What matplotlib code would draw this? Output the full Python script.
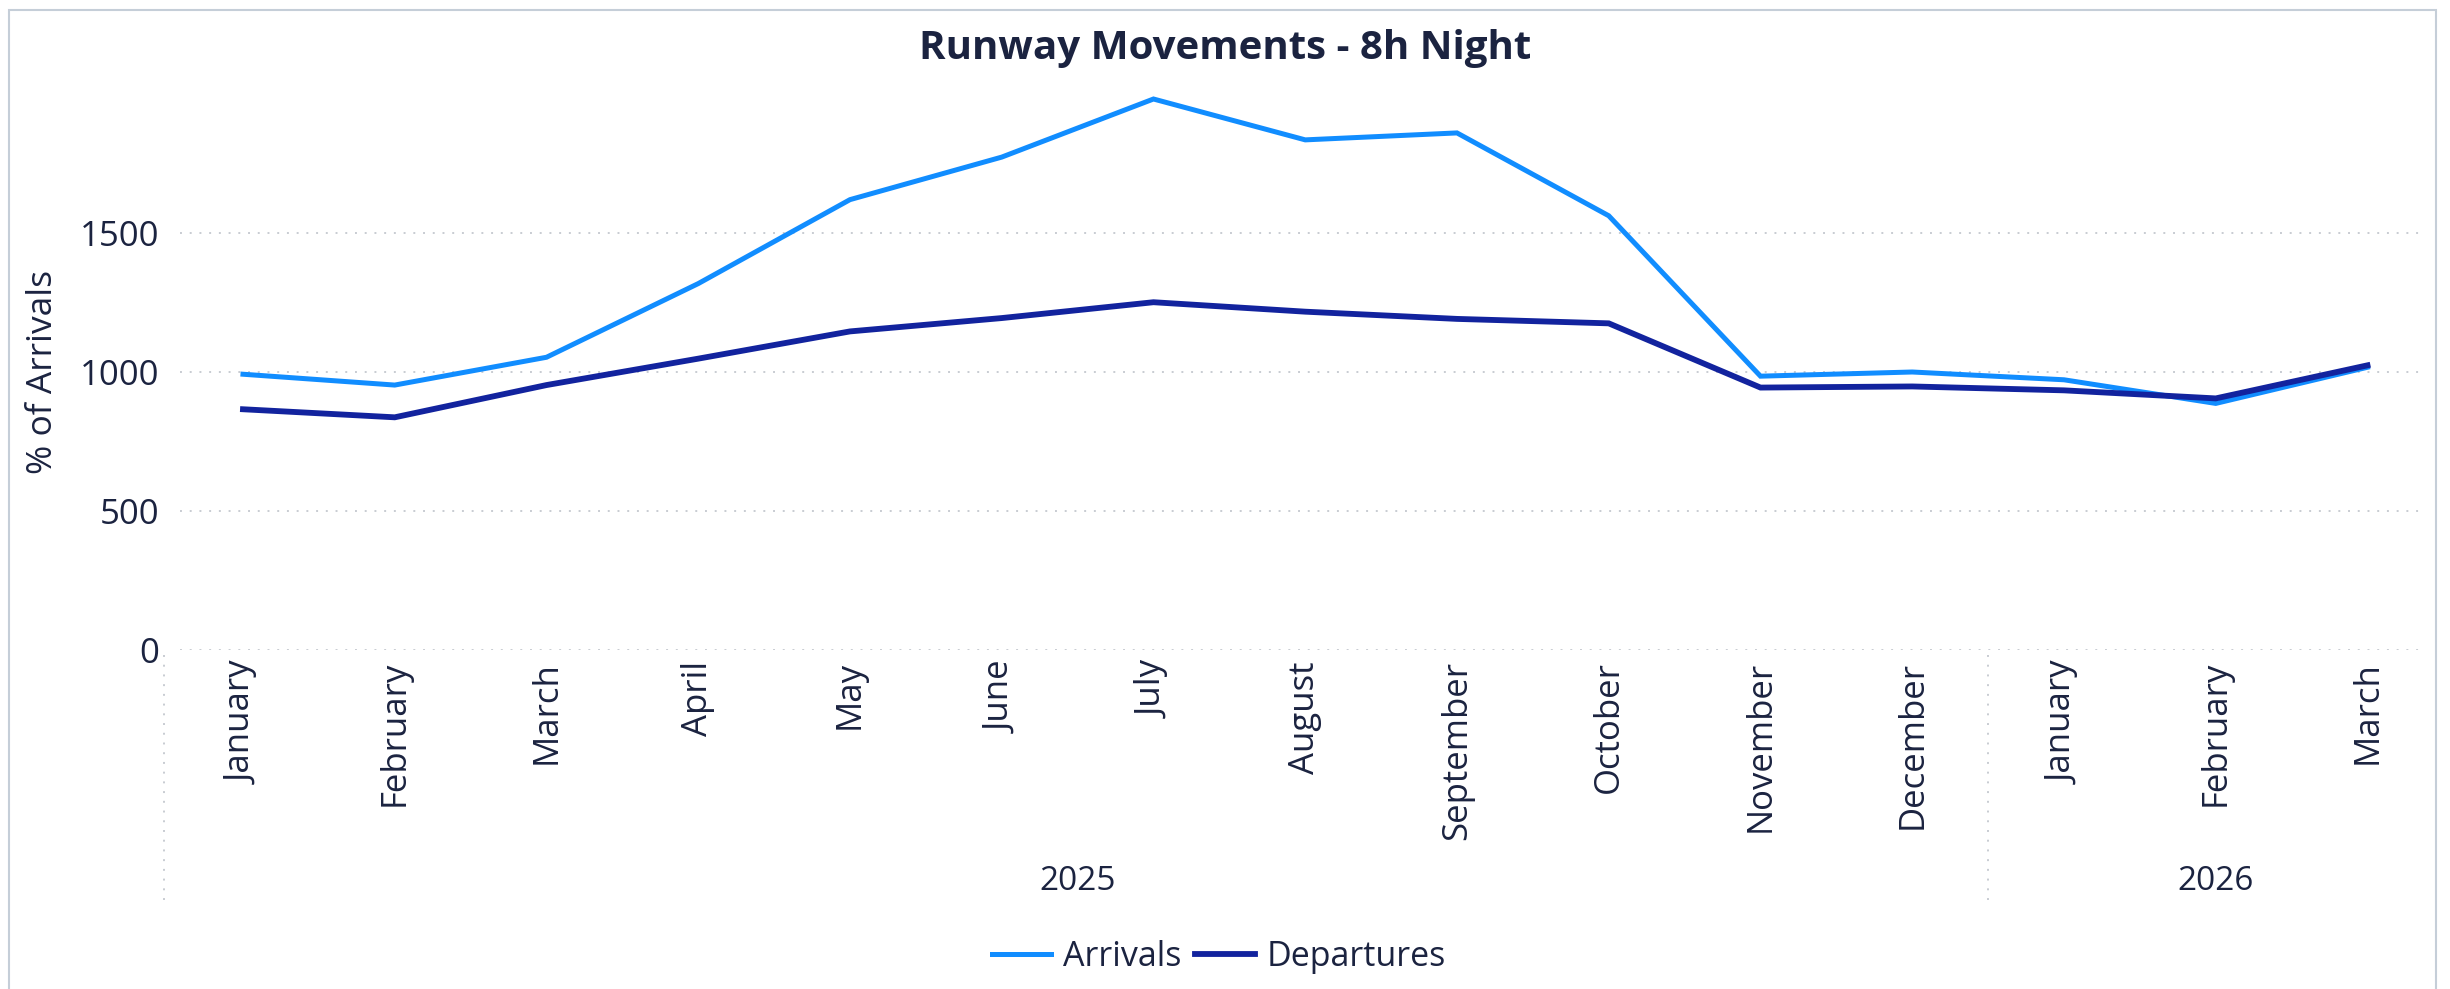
import matplotlib
matplotlib.use("Agg")
import matplotlib.pyplot as plt
import matplotlib.transforms as mtransforms
from matplotlib.lines import Line2D
from matplotlib.patches import Rectangle

plt.rcParams['font.family'] = ['Open Sans', 'DejaVu Sans']

months = ["January", "February", "March", "April", "May", "June", "July",
          "August", "September", "October", "November", "December",
          "January", "February", "March"]
years = ["2025", "2026"]
year_counts = [12, 3]
arrivals = [992, 953, 1053, 1318, 1620, 1773, 1982, 1835, 1860, 1562,
            985, 1000, 972, 887, 1017]
departures = [866, 837, 953, 1048, 1146, 1194, 1251, 1217, 1191, 1175,
              944, 948, 934, 905, 1024]
yticks = [0, 500, 1000, 1500]

NAVY = "#1B2340"
C_ARR = "#118DFF"
C_DEP = "#12239E"
GRID = "#C8CCD2"

W, H = 2450, 989
fig = plt.figure(figsize=(W / 100, H / 100), dpi=100)

def fx(px):
    return px / W

def fy(py):
    return 1 - py / H

ax = fig.add_axes([fx(180), fy(650), fx(2420) - fx(180), fy(94) - fy(650)])
x = list(range(len(months)))
ax.plot(x, arrivals, color=C_ARR, lw=3.6, solid_joinstyle='miter', clip_on=False, zorder=3, label="Arrivals")
ax.plot(x, departures, color=C_DEP, lw=4.2, solid_joinstyle='miter', clip_on=False, zorder=4, label="Departures")

ax.set_xlim(-0.415, 14.346)
ax.set_ylim(0, 2000)
ax.set_yticks(yticks)
ax.set_yticklabels([str(v) for v in yticks], fontsize=25, color=NAVY)
ax.set_xticks(x)
ax.set_xticklabels(months, rotation=90, fontsize=25, color=NAVY, va='top', ha='center')
ax.tick_params(axis='both', length=0)
ax.tick_params(axis='y', pad=15)
ax.tick_params(axis='x', pad=8)
for s in ax.spines.values():
    s.set_visible(False)
ax.grid(axis='y', color=GRID, lw=1.4, linestyle=(0, (1, 4)))
ax.set_axisbelow(True)
ax.set_ylabel("% of Arrivals", fontsize=25.5, color=NAVY, labelpad=14)

# hierarchical year labels and separators
blend = mtransforms.blended_transform_factory(ax.transData, fig.transFigure)
start = 0
bounds = [-0.5]
for yr, n in zip(years, year_counts):
    center = start + (n - 1) / 2
    ax.text(center, fy(882), yr, transform=blend,
            ha='center', va='center', fontsize=24, color=NAVY)
    start += n
    bounds.append(start - 0.5)
for b in bounds[:-1]:
    xb = b if b > 0 else -0.52
    fig.add_artist(Line2D([xb, xb], [fy(655), fy(907)], transform=blend,
                          color=GRID, lw=1.4, linestyle=(0, (1, 4))))

fig.text(0.5, fy(48), "Runway Movements - 8h Night", ha='center', va='center',
         fontsize=29, fontweight='bold', color=NAVY)

fig.legend(loc='center', bbox_to_anchor=(fx(1219), fy(957)), ncol=2, frameon=False,
           fontsize=24.5, labelcolor=NAVY, handlelength=1.75, handletextpad=0.35,
           columnspacing=0.4, borderaxespad=0)

fig.add_artist(Rectangle((fx(9), fy(1000)), fx(2436) - fx(9), fy(10) - fy(1000),
                         transform=fig.transFigure, fill=False, edgecolor="#C5CED8", lw=1.5))

fig.savefig("out.png", dpi=100)
